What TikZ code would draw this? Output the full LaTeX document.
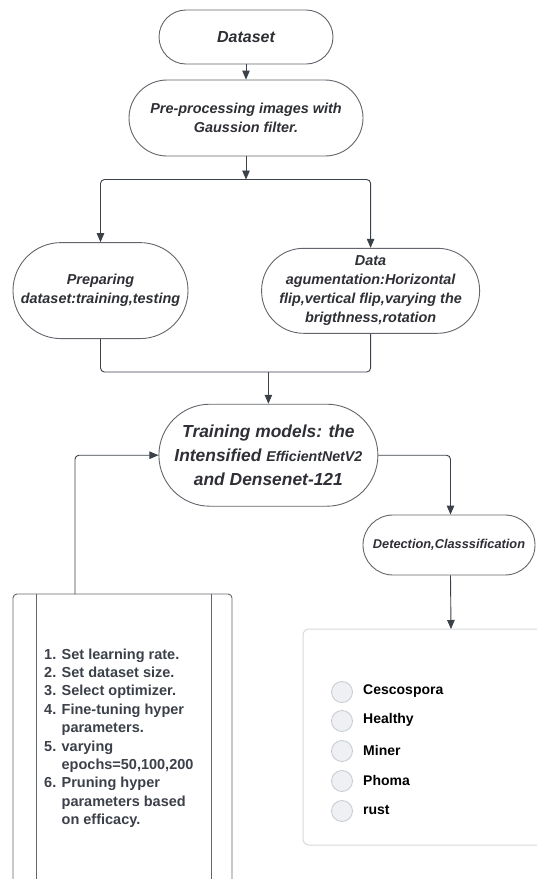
\documentclass[tikz,border=0pt]{standalone}
\usepackage{fontspec}
\usetikzlibrary{arrows.meta}
\newfontfamily\lsans{Liberation Sans}
\definecolor{edgegray}{HTML}{62666C}
\definecolor{linkgray}{HTML}{3B4149}
\definecolor{txtdark}{HTML}{2E3035}
\definecolor{listtxt}{HTML}{3C4049}
\definecolor{panelgray}{HTML}{D7DADF}
\definecolor{dotfill}{HTML}{EEF0F3}
\definecolor{dotedge}{HTML}{C6CAD0}
\newcommand{\fs}[2]{\fontsize{#1}{#2}\selectfont}
\tikzset{
  term/.style={draw=edgegray, line width=0.9pt, fill=white, align=center,
    text=txtdark, inner sep=0pt, font=\lsans\bfseries\itshape\fs{14.4}{19}},
  conn/.style={draw=linkgray, line width=0.9pt, rounded corners=4pt},
  arr/.style={conn, -{Triangle[length=9pt,width=7.5pt]}},
  legendtxt/.style={anchor=west, inner sep=0pt, font=\lsans\bfseries\fs{14}{16}, text=black},
  dot/.style={draw=dotedge, fill=dotfill, line width=0.8pt}
}
\begin{document}
\begin{tikzpicture}[x=1pt,y=-1pt]
\useasboundingbox (0,0) rectangle (536,879);
\fill[white] (0,0) rectangle (536,879);

% flow nodes
\node[term, minimum width=174pt, minimum height=54pt, rounded corners=27pt,
      font=\lsans\bfseries\itshape\fs{16}{19}] (ds) at (246,37) {Dataset};
\node[term, minimum width=234pt, minimum height=76pt, rounded corners=38pt] (pre) at (246,118)
  {Pre-processing images with\\Gaussion filter.};
\node[term, minimum width=175pt, minimum height=96pt, rounded corners=48pt] (prep) at (100.5,290.6)
  {Preparing\\dataset:training,testing};
\node[term, minimum width=218pt, minimum height=85pt, rounded corners=42pt] (aug) at (370.6,290.8)
  {Data\\agumentation:Horizontal\\flip,vertical flip,varying the\\brigthness,rotation};
\node[term, minimum width=219pt, minimum height=102pt, rounded corners=51pt,
      font=\lsans\bfseries\itshape\fs{17.4}{24}] (train) at (268.4,455.2)
  {Training models: the\\Intensified {\fs{14.2}{24}EfficientNetV2}\\and Densenet-121};
\node[term, minimum width=172pt, minimum height=60pt, rounded corners=30pt,
      font=\lsans\bfseries\itshape\fs{12.8}{15}] (det) at (449,545) {Detection,Classsification};

% hyper-parameter panel
\draw[draw=edgegray, line width=0.9pt, rounded corners=4pt] (13,900) -- (13,594) -- (232,594) -- (232,900);
\draw[draw=edgegray, line width=0.9pt] (36,594) -- (36,900) (211,594) -- (211,900);
\coordinate (hp) at (75,594);
% anchored on the baseline of the last line
\node[anchor=base west, align=left, inner sep=0pt, text=listtxt,
      font=\lsans\bfseries\fs{14.5}{18.4}] (steps) at (44,824.6)
  {1. Set learning rate.\\
   2. Set dataset size.\\
   3. Select optimizer.\\
   4. Fine-tuning hyper\\
   \phantom{4. }parameters.\\
   5. varying\\
   \phantom{5. }epochs=50,100,200\\
   6. Pruning hyper\\
   \phantom{6. }parameters based\\
   \phantom{6. }on efficacy.};

% class panel
\draw[draw=panelgray, line width=1pt, rounded corners=6pt] (550,845) -- (303,845) -- (303,629) -- (550,629);
\coordinate (cls) at (451,629);
\foreach \y/\lbl [count=\i] in {692/Cescospora,721/Healthy,751/Miner,781/Phoma,811/rust}{
  \draw[dot] (342,\y) circle (10.5pt);
  \node[legendtxt] (c\i) at (363,\y-1) {\lbl};
}

% connectors
\coordinate (split) at (246,179.5);
\coordinate (merge) at (268.4,372);
\draw[arr] (ds) -- (pre);
\draw[arr] (pre) -- (split);
\draw[arr] (split) -| (prep.north);
\draw[arr] (split) -| (aug.north);
\draw[conn] (prep.south) |- (merge);
\draw[conn] (aug.south) |- (merge);
\draw[arr] (merge) -- (train.north);
\draw[arr] (hp) |- (train.west);
\draw[arr] (train.east) -| (det.north -| 450.5,0);
\draw[arr] (det.south -| 450.5,0) -- (cls);
\end{tikzpicture}
\end{document}
